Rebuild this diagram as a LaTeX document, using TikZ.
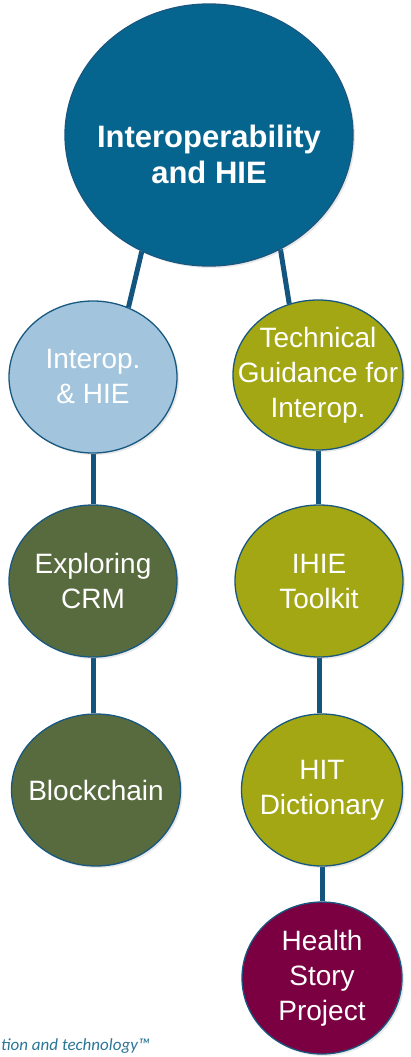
\documentclass[tikz,border=0pt]{standalone}
\usepackage{fontspec}
\setmainfont{Liberation Sans}
\newfontfamily\tagfont{Carlito}
\usetikzlibrary{shapes.geometric,shadows,backgrounds}

\definecolor{hieblue}{RGB}{6,101,143}
\definecolor{paleblue}{RGB}{162,197,221}
\definecolor{mossgreen}{RGB}{88,107,63}
\definecolor{olive}{RGB}{163,167,19}
\definecolor{maroon}{RGB}{123,0,65}
\definecolor{rimblue}{RGB}{24,88,128}
\definecolor{linkblue}{RGB}{19,85,127}
\definecolor{tagteal}{RGB}{44,117,150}

\tikzset{
    words/.style={text=white, align=center, inner sep=0pt, font=\fontsize{28}{35}\selectfont},
    bubble/.style={ellipse, draw=rimblue, line width=1.3pt, inner sep=0pt,
        minimum width=168pt, minimum height=152pt,
        drop shadow={shadow xshift=2pt, shadow yshift=-2pt, opacity=0.18},
        label={[words]center:#1}},
    link/.style={draw=linkblue, line width=5pt},
}

\begin{document}
\begin{tikzpicture}[x=1pt,y=-1pt]
    \useasboundingbox (0,0) rectangle (410,1057);

    \node[bubble={}, fill=hieblue, minimum width=288pt, minimum height=262pt] (top) at (209,135) {};
    \node[words, font=\bfseries\fontsize{31}{36}\selectfont] (toptext) at (209,154) {Interoperability\\and HIE};

    \node[bubble={Interop.\\\& HIE}, fill=paleblue] (ihe) at (93,377) {};
    \node[bubble={Exploring\\CRM}, fill=mossgreen] (crm) at (93,581) {};
    \node[bubble={Blockchain}, fill=mossgreen, minimum width=169pt] (blk) at (96,790) {};

    \node[bubble={Technical\\Guidance for\\Interop.}, fill=olive, minimum width=170pt, minimum height=150pt] (tgi) at (318,375) {};
    \node[bubble={IHIE\\Toolkit}, fill=olive] (ihk) at (319,581) {};
    \node[bubble={HIT\\Dictionary}, fill=olive, minimum width=161pt] (hit) at (322,790) {};
    \node[bubble={Health\\Story\\Project}, fill=maroon, minimum width=160pt] (hsp) at (322,978) {};

    \node[anchor=base west, inner sep=0pt, text=tagteal, font=\tagfont\itshape\fontsize{17}{20}\selectfont] (tag) at (1,1050) {tion and technology™};

    \begin{scope}[on background layer]
        \draw[link] (top.-120) -- (ihe.63);
        \draw[link] (top.-58) -- (tgi.112);
        \foreach \a/\b in {ihe/crm,crm/blk,tgi/ihk,ihk/hit,hit/hsp} {
            \draw[link] (\a.south) -- (\a.south |- \b.north);
        }
    \end{scope}
\end{tikzpicture}
\end{document}
